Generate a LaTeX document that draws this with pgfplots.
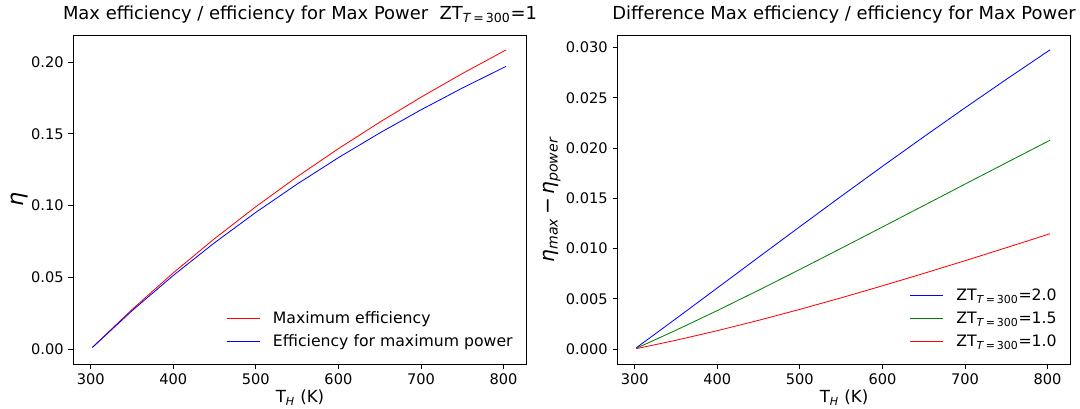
\documentclass[border=0pt]{standalone}
\usepackage{fontspec}
\setmainfont{DejaVu Sans}
\usepackage{pgfplots}
\pgfplotsset{compat=1.18}
\definecolor{mplgreen}{rgb}{0,0.5,0}
\pgfplotsset{
  mybase/.style={
    scale only axis, width=326.4pt, height=236.9pt,
    xmin=279, xmax=828, xtick={300,400,500,600,700,800},
    tick pos=left, tick align=outside, major tick length=3.5pt,
    every tick/.style={black, line width=0.6pt},
    axis line style={line width=0.6pt},
    tick label style={font=\fontsize{10.5}{12}\selectfont},
    /pgf/number format/assume math mode=true,
    scaled y ticks=false,
    title style={font=\fontsize{12.9}{15}\selectfont, yshift=-1pt},
    xlabel style={font=\fontsize{12}{14}\selectfont, yshift=3pt},
    xlabel={T\textsubscript{\textit{H}} (K)},
    legend style={draw=none, fill=none, font=\fontsize{11.3}{13}\selectfont, row sep=2.6pt,
      at={(0.985,0.03)}, anchor=south east},
    legend cell align=left,
    legend image code/.code={\draw[#1] (0pt,0pt) -- (24pt,0pt); \path (31pt,0pt);},
    every axis plot/.append style={line width=0.6pt, no marks},
  }
}
\begin{document}
\begin{tikzpicture}
\begin{axis}[mybase,
  ymin=-0.0104, ymax=0.2188,
  ytick={0,0.05,0.10,0.15,0.20},
  yticklabel style={/pgf/number format/.cd, fixed, fixed zerofill, precision=2},
  ylabel={\textit{η}}, ylabel style={font=\fontsize{16}{18}\selectfont}, ylabel shift=-5pt,
  title={Max efficiency / efficiency for Max Power\ \ ZT\textsubscript{\textit{T}\,=\,300}=1},
]
\addplot[red] coordinates {
(302,0.001140) (350,0.027533) (400,0.053102) (450,0.076923) (500,0.099181)
(550,0.120034) (600,0.139620) (650,0.158059) (700,0.175454) (750,0.191899)
(800,0.207473) (803,0.208410)};
\addlegendentry{Maximum efficiency}
\addplot[blue] coordinates {
(302,0.001110) (350,0.026667) (400,0.051282) (450,0.074074) (500,0.095238)
(550,0.114943) (600,0.133333) (650,0.150538) (700,0.166667) (750,0.181818)
(800,0.196078) (803,0.196930)};
\addlegendentry{Efficiency for maximum power}
\end{axis}
\begin{axis}[mybase, xshift=391.7pt,
  ymin=-0.0015, ymax=0.03126,
  ytick={0,0.005,0.010,0.015,0.020,0.025,0.030},
  yticklabel style={/pgf/number format/.cd, fixed, fixed zerofill, precision=3},
  ylabel={\textit{η}\textsubscript{\textit{max}}\,−\,\textit{η}\textsubscript{\textit{power}}},
  ylabel style={font=\fontsize{14.5}{16}\selectfont}, ylabel shift=-3pt,
  title={Difference Max efficiency / efficiency for Max Power},
]
\addplot[blue] coordinates {
(302,0.000120) (350,0.003019) (400,0.006072) (450,0.009132) (500,0.012179)
(550,0.015199) (600,0.018182) (650,0.021119) (700,0.024008) (750,0.026841)
(800,0.029619) (803,0.029785)};
\addlegendentry{ZT\textsubscript{\textit{T}\,=\,300}=2.0}
\addplot[mplgreen] coordinates {
(302,0.000070) (350,0.001866) (400,0.003821) (450,0.005845) (500,0.007916)
(550,0.010020) (600,0.012144) (650,0.014278) (700,0.016411) (750,0.018540)
(800,0.020658) (803,0.020785)};
\addlegendentry{ZT\textsubscript{\textit{T}\,=\,300}=1.5}
\addplot[red] coordinates {
(302,0.000030) (350,0.000866) (400,0.001820) (450,0.002849) (500,0.003943)
(550,0.005091) (600,0.006287) (650,0.007521) (700,0.008787) (750,0.010081)
(800,0.011395) (803,0.011474)};
\addlegendentry{ZT\textsubscript{\textit{T}\,=\,300}=1.0}
\end{axis}
\pgfresetboundingbox
\useasboundingbox (-52.8pt,-31.7pt) rectangle (724.8pt,262.1pt);
\end{tikzpicture}
\end{document}
